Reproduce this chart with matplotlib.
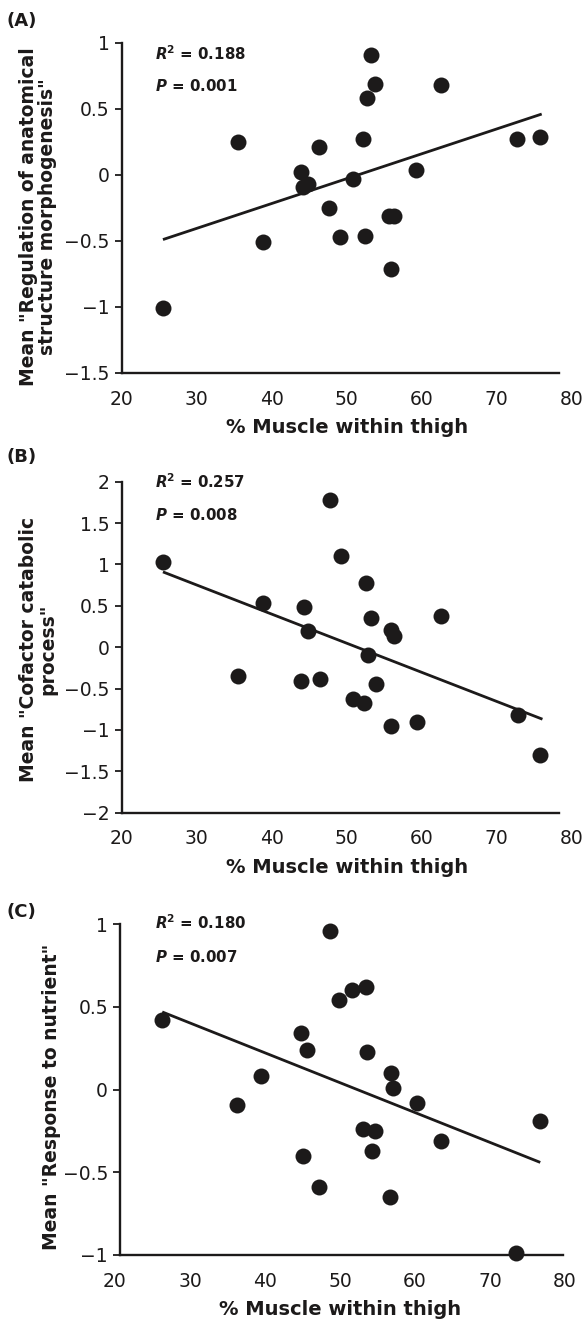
import matplotlib
matplotlib.use("Agg")
import matplotlib.pyplot as plt

plt.rcParams['font.family'] = ['DejaVu Sans']
plt.rcParams['mathtext.fontset'] = 'custom'
plt.rcParams['mathtext.bf'] = 'DejaVu Sans:bold'
plt.rcParams['mathtext.bfit'] = 'DejaVu Sans:italic:bold'
plt.rcParams['mathtext.it'] = 'DejaVu Sans:italic'
plt.rcParams['mathtext.rm'] = 'DejaVu Sans'

# ---------------- data ----------------
panel_tags = ["(A)", "(B)", "(C)"]
xlabel_text = "% Muscle within thigh"
ylabels = ['Mean "Regulation of anatomical\nstructure morphogenesis"',
           'Mean "Cofactor catabolic\nprocess"',
           'Mean "Response to nutrient"']
r2_values = ["0.188", "0.257", "0.180"]
p_values = ["0.001", "0.008", "0.007"]

x_ticks = [20, 30, 40, 50, 60, 70, 80]
a_yticks = [-1.5, -1, -0.5, 0, 0.5, 1]
b_yticks = [-2, -1.5, -1, -0.5, 0, 0.5, 1, 1.5, 2]
c_yticks = [-1, -0.5, 0, 0.5, 1]

a_x = [25.5, 35.5, 38.8, 43.9, 44.2, 44.8, 46.3, 47.7, 49.1, 50.8, 52.2,
       52.5, 52.7, 53.3, 53.8, 55.7, 56.3, 55.9, 59.3, 62.6, 72.7, 75.8]
a_y = [-1.01, 0.25, -0.51, 0.02, -0.09, -0.07, 0.21, -0.25, -0.47, -0.03, 0.27,
       -0.46, 0.58, 0.91, 0.69, -0.31, -0.31, -0.71, 0.04, 0.68, 0.27, 0.29]
a_fit_x = [25.5, 76.0]
a_fit_y = [-0.49, 0.46]

b_x = [25.5, 35.5, 38.8, 43.9, 44.3, 44.9, 46.4, 47.8, 49.2, 50.8, 52.3,
       52.6, 52.8, 53.3, 53.9, 55.9, 56.3, 55.9, 59.4, 62.6, 72.8, 75.8]
b_y = [1.03, -0.35, 0.53, -0.41, 0.48, 0.19, -0.38, 1.78, 1.10, -0.63, -0.67,
       0.77, -0.09, 0.35, -0.44, 0.21, 0.13, -0.95, -0.90, 0.38, -0.82, -1.30]
b_fit_x = [25.5, 76.1]
b_fit_y = [0.91, -0.87]

c_x = [26.2, 36.3, 39.5, 44.8, 45.0, 45.6, 47.2, 48.6, 49.9, 51.6, 53.1,
       53.5, 53.6, 54.2, 54.7, 56.7, 56.8, 57.1, 60.2, 63.4, 73.5, 76.7]
c_y = [0.42, -0.09, 0.08, 0.34, -0.40, 0.24, -0.59, 0.96, 0.54, 0.60, -0.24,
       0.62, 0.23, -0.37, -0.25, -0.65, 0.10, 0.01, -0.08, -0.31, -0.99, -0.19]
c_fit_x = [26.3, 76.7]
c_fit_y = [0.47, -0.44]

# ---------------- layout ----------------
W, H = 585, 1319
fig = plt.figure(figsize=(W / 100, H / 100), dpi=100)
ink = '#1c1a1a'

def fx(px):
    return px / W

def fy(py):
    return 1 - py / H

panels = [
    dict(x=a_x, y=a_y, fx_=a_fit_x, fy_=a_fit_y, yt=a_yticks, ylim=(-1.5, 1),
         box=(121.7, 571.7, 42.7, 373.0), xb=(20, 78.3), tag_y=21, ylab_x=38,
         ylab_dy=9, txt_y=(54, 86)),
    dict(x=b_x, y=b_y, fx_=b_fit_x, fy_=b_fit_y, yt=b_yticks, ylim=(-2, 2),
         box=(121.7, 571.7, 481.7, 812.7), xb=(20, 78.3), tag_y=457, ylab_x=38,
         ylab_dy=2, txt_y=(482, 515)),
    dict(x=c_x, y=c_y, fx_=c_fit_x, fy_=c_fit_y, yt=c_yticks, ylim=(-1, 1),
         box=(115.0, 565.0, 924.3, 1255.0), xb=(20.7, 79.7), tag_y=912, ylab_x=52,
         ylab_dy=7, txt_y=(923, 957)),
]

for i, p in enumerate(panels):
    l, r, t, b = p['box']
    ax = fig.add_axes([fx(l), fy(b), (r - l) / W, (b - t) / H])
    ax.set_xlim(20, 80)
    ax.set_ylim(*p['ylim'])
    ax.set_xticks(x_ticks)
    ax.set_yticks(p['yt'])
    ax.set_yticklabels([('%g' % v).replace('-', '\u2212') for v in p['yt']])
    for s in ['top', 'right']:
        ax.spines[s].set_visible(False)
    for s in ['left', 'bottom']:
        ax.spines[s].set_linewidth(1.7)
        ax.spines[s].set_color(ink)
    ax.spines['bottom'].set_bounds(*p['xb'])
    ax.spines['left'].set_position(('data', p['xb'][0]))
    ax.tick_params(axis='y', direction='out', length=5.3, width=1.3, color=ink,
                   labelsize=13.5, pad=3.5, labelcolor=ink)
    ax.tick_params(axis='x', length=0, labelsize=13.5, pad=12, labelcolor=ink)
    ax.patch.set_visible(False)

    ax.plot(p['fx_'], p['fy_'], color=ink, lw=2.0, solid_capstyle='butt', zorder=2)
    ax.plot(p['x'], p['y'], 'o', color=ink, markersize=11.5, markeredgewidth=0,
            clip_on=False, zorder=3)

    ax.set_xlabel(xlabel_text, fontsize=14, fontweight='bold', labelpad=7, color=ink)

    fig.text(fx(7), fy(p['tag_y']), panel_tags[i], fontsize=13, fontweight='bold',
             ha='left', va='center', color=ink)
    fig.text(fx(p['ylab_x']), fy((t + b) / 2 + p['ylab_dy']), ylabels[i],
             rotation=90, ha='center', va='center', multialignment='center',
             fontsize=13.5, fontweight='bold', color=ink, linespacing=1.05)
    fig.text(fx(155), fy(p['txt_y'][0]),
             r'$\mathbfit{R}^{\mathbf{2}}$ = ' + r2_values[i],
             fontsize=10.8, fontweight='bold', ha='left', va='center', color=ink)
    fig.text(fx(155), fy(p['txt_y'][1]),
             r'$\mathbfit{P}$ = ' + p_values[i],
             fontsize=10.8, fontweight='bold', ha='left', va='center', color=ink)

fig.savefig('out.png', dpi=100)
